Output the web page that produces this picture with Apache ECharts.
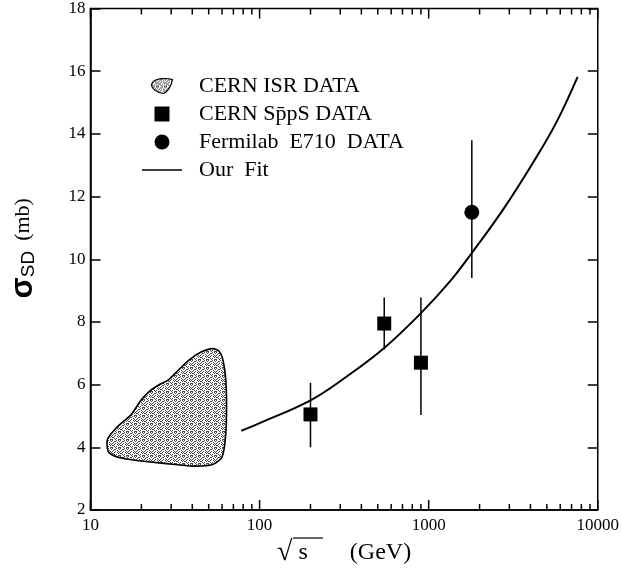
<!DOCTYPE html>
<html>
<head>
<meta charset="utf-8">
<script src="https://cdn.jsdelivr.net/npm/echarts@6/dist/echarts.min.js"></script>
<style>
  html, body { margin: 0; padding: 0; background: #fff; }
  #main { width: 622px; height: 572px; }
</style>
</head>
<body>
<div id="main"></div>
<script>
// ISR region outline (sqrt(s) in GeV, sigma in mb)
var isrX = [12.63, 14.33, 17.15, 18.35, 20.09, 22.47, 25.71, 28.75, 32.90, 38.53, 45.11, 52.77, 57.76,
            60.95, 63.21, 63.72, 62.62, 59.90, 52.77, 40.29, 28.14, 18.77, 14.33, 12.80, 12.53];
var isrY = [4.27, 4.64, 5.01, 5.22, 5.53, 5.80, 6.01, 6.14, 6.45, 6.80, 7.04, 7.15, 7.06,
            6.75, 6.11, 5.06, 4.22, 3.69, 3.45, 3.40, 3.48, 3.58, 3.69, 3.84, 4.06];

// CERN SppS points
var sppsX  = [200, 546, 900];
var sppsY  = [5.05, 7.95, 6.70];
var sppsLo = [4.00, 7.12, 5.03];
var sppsHi = [6.06, 8.78, 8.78];

// Fermilab E710
var e710X  = [1800];
var e710Y  = [11.5];
var e710Lo = [9.4];
var e710Hi = [13.8];

// fit curve
var fitX = [78, 100, 200, 320, 546, 900, 1340, 1800, 2760, 4140, 5670, 7600];
var fitY = [4.53, 4.77, 5.50, 6.22, 7.17, 8.28, 9.30, 10.20, 11.59, 13.08, 14.35, 15.82];

// axis ticks
var majorTicks = [10, 100, 1000, 10000];
var minorTicks = [20, 30, 40, 50, 60, 70, 80, 90, 200, 300, 400, 500, 600, 700, 800, 900,
                  2000, 3000, 4000, 5000, 6000, 7000, 8000, 9000];
var yMin = 2, yMax = 18;

var serif = '"Liberation Serif", "DejaVu Serif", serif';
var sans = '"Liberation Sans", sans-serif';

// stipple pattern for the ISR area (fixed bitmap)
var dots = ['10001010', '00110001', '01000100', '10010010',
            '00100101', '11000010', '00101000', '10010011'];
var pc = document.createElement('canvas');
pc.width = 8; pc.height = 8;
var pctx = pc.getContext('2d');
pctx.fillStyle = '#ffffff'; pctx.fillRect(0, 0, 8, 8);
pctx.fillStyle = '#444444';
dots.forEach(function (row, r) {
  for (var c = 0; c < 8; c++) if (row[c] === '1') pctx.fillRect(c, r, 1, 1);
});
var stipple = { image: pc, repeat: 'repeat' };

function zip(a, b) { return a.map(function (v, i) { return [v, b[i]]; }); }
function bars(x, lo, hi) { return x.map(function (v, i) { return [v, lo[i], hi[i]]; }); }

function errRender(params, api) {
  var p1 = api.coord([api.value(0), api.value(1)]);
  var p2 = api.coord([api.value(0), api.value(2)]);
  return { type: 'line', shape: { x1: p1[0], y1: p1[1], x2: p2[0], y2: p2[1] },
           style: { stroke: '#000', lineWidth: 1.5 } };
}

var overline = { type: 'line', shape: { x1: 293, y1: 538, x2: 323, y2: 538 },
                 style: { stroke: '#000', lineWidth: 1.2 } };

var chart = echarts.init(document.getElementById('main'));
var option = {
  animation: false,
  backgroundColor: '#fff',
  grid: { left: 90, right: 21, top: 6, bottom: 62, show: true, borderColor: '#000', borderWidth: 1.5 },
  legend: {
    left: 137, top: 70, orient: 'vertical', itemWidth: 40, itemHeight: 15, itemGap: 6,
    textStyle: { fontFamily: serif, fontSize: 22, color: '#000', padding: [0, 0, 0, 12] },
    data: [
      { name: 'CERN ISR DATA',
        icon: 'path://M3,4 C8,0 20,0 25,2 C24,8 20,16 15,18 C8,18 0,12 1,7 Z',
        itemStyle: { color: stipple, borderColor: '#000', borderWidth: 1.2 } },
      { name: 'CERN Sp\u0304pS DATA', icon: 'path://M0,0 H10 V10 H0 Z' },
      { name: 'Fermilab  E710  DATA', icon: 'circle' },
      { name: 'Our  Fit', icon: 'path://M0,0 H40 V1.6 H0 Z' }
    ]
  },
  xAxis: {
    type: 'log', logBase: 10, min: 10, max: 10000, position: 'bottom',
    axisLine: { show: true, lineStyle: { color: '#000', width: 1.5 } },
    axisTick: { show: false },
    axisLabel: { color: '#000', fontFamily: serif, fontSize: 17, margin: 7,
                 formatter: function (v) { return String(Math.round(v)); } },
    splitLine: { show: false },
    name: '{r|\u221A}{s| s }{g|      (GeV)}', nameLocation: 'middle', nameGap: 20,
    nameTextStyle: { color: '#000', fontFamily: serif, fontSize: 24,
      rich: { r: { fontSize: 28, fontFamily: serif }, s: { fontSize: 24, fontFamily: serif },
              g: { fontSize: 24, fontFamily: serif } } }
  },
  yAxis: [
    {
      type: 'value', min: yMin, max: yMax, interval: 2, position: 'left',
      axisLine: { show: true, lineStyle: { color: '#000', width: 1.5 } },
      axisTick: { inside: true, length: 10, lineStyle: { color: '#000', width: 1.5 } },
      axisLabel: { color: '#000', fontFamily: serif, fontSize: 17, margin: 5 },
      splitLine: { show: false },
      name: '{pad| }{s|\u03C3}{sub|SD}   {m|(mb)}', nameLocation: 'middle', nameGap: 52, nameRotate: 90,
      nameTextStyle: { color: '#000',
        rich: { pad: { width: 22, fontSize: 10 },
                s: { fontSize: 31, fontFamily: sans, fontWeight: 'bold', lineHeight: 30 },
                sub: { fontSize: 19, fontFamily: sans, lineHeight: 14, verticalAlign: 'bottom' },
                m: { fontSize: 22, fontFamily: serif, lineHeight: 30 } } }
    },
    {
      type: 'value', min: yMin, max: yMax, interval: 2, position: 'right',
      axisLine: { show: false },
      axisTick: { inside: true, length: 10, lineStyle: { color: '#000', width: 1.5 } },
      axisLabel: { show: false }, splitLine: { show: false }
    }
  ],
  series: [
    {
      name: 'CERN ISR DATA', type: 'custom',
      itemStyle: { color: stipple, borderColor: '#000' },
      data: [[isrX[0], isrY[0]]],
      renderItem: function (params, api) {
        var pts = isrX.map(function (x, i) { return api.coord([x, isrY[i]]); });
        return { type: 'polygon', shape: { points: pts, smooth: 0.25 },
                 style: { fill: stipple, stroke: '#000', lineWidth: 1.6 } };
      }
    },
    {
      name: 'Our  Fit', type: 'line', data: zip(fitX, fitY), smooth: 0.4, symbol: 'none',
      lineStyle: { color: '#000', width: 2 }, itemStyle: { color: '#000' }
    },
    {
      name: 'CERN Sp\u0304pS DATA', type: 'custom', data: bars(sppsX, sppsLo, sppsHi),
      renderItem: errRender, itemStyle: { color: '#000' }
    },
    {
      name: 'Fermilab  E710  DATA', type: 'custom', data: bars(e710X, e710Lo, e710Hi),
      renderItem: errRender, itemStyle: { color: '#000' }
    },
    {
      name: 'CERN Sp\u0304pS DATA', type: 'scatter', data: zip(sppsX, sppsY), symbol: 'rect',
      symbolSize: 14, itemStyle: { color: '#000', opacity: 1 }, z: 5
    },
    {
      name: 'Fermilab  E710  DATA', type: 'scatter', data: zip(e710X, e710Y), symbol: 'circle',
      symbolSize: 15, itemStyle: { color: '#000', opacity: 1 }, z: 5
    }
  ],
  graphic: [overline]
};
chart.setOption(option);

// inward tick marks on the top and bottom edges, placed through the x scale
function edgeTicks(values, len) {
  var out = [];
  values.forEach(function (v) {
    var b = chart.convertToPixel({ xAxisIndex: 0, yAxisIndex: 0 }, [v, yMin]);
    var t = chart.convertToPixel({ xAxisIndex: 0, yAxisIndex: 0 }, [v, yMax]);
    var st = { stroke: '#000', lineWidth: 1.5 };
    out.push({ type: 'line', z: 10, shape: { x1: b[0], y1: b[1], x2: b[0], y2: b[1] - len }, style: st });
    out.push({ type: 'line', z: 10, shape: { x1: t[0], y1: t[1], x2: t[0], y2: t[1] + len }, style: st });
  });
  return out;
}
chart.setOption({
  graphic: [overline].concat(edgeTicks(majorTicks, 10), edgeTicks(minorTicks, 6))
});
</script>
</body>
</html>
